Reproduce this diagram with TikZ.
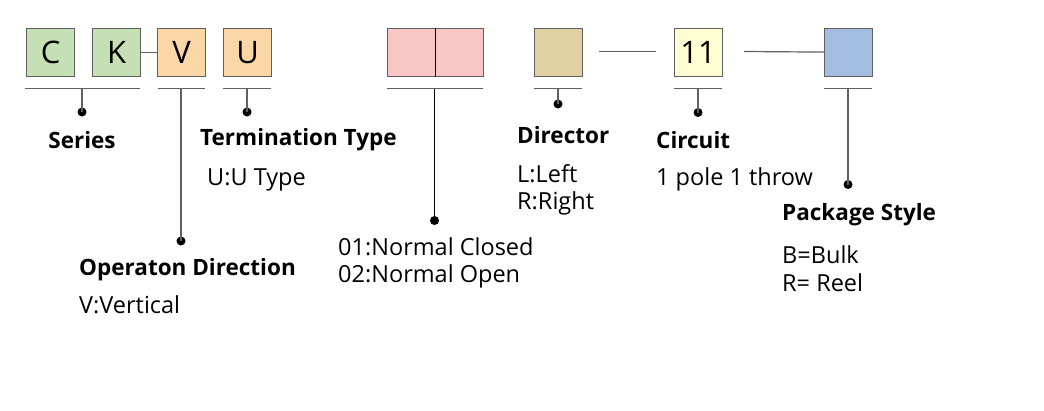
\documentclass[tikz,border=0pt]{standalone}
\usepackage{fontspec}
\setmainfont{Open Sans}
\definecolor{cgreen}{HTML}{C5E0B4}
\definecolor{corange}{HTML}{FBD6A7}
\definecolor{cpink}{HTML}{F8C6C4}
\definecolor{ctan}{HTML}{E1D1A2}
\definecolor{cyellow}{HTML}{FFFDD2}
\definecolor{cblue}{HTML}{A3BDE1}
\definecolor{cline}{HTML}{606060}
\begin{document}
\begin{tikzpicture}[x=1pt,y=-1pt,
  codebox/.style={draw=cline,line width=1.2pt,minimum width=48pt,minimum height=48pt,inner sep=0pt,anchor=north west,font=\fontsize{31}{34}\selectfont},
  conn/.style={draw=cline,line width=1.2pt},
  dotnode/.style={circle,fill=black,inner sep=0pt,minimum size=9pt},
  title/.style={font=\fontsize{22.5}{24}\selectfont\bfseries,inner sep=0pt},
  desc/.style={font=\fontsize{23.5}{24}\selectfont,inner sep=0pt,anchor=west,align=left}]
\useasboundingbox (0,0) rectangle (1044,410);
% boxes
\node[codebox,fill=cgreen] (c) at (26,27.5) {C};
\node[codebox,fill=cgreen] (k) at (92,27.5) {K};
\node[codebox,fill=corange] (v) at (157,27.5) {V};
\node[codebox,fill=corange] (u) at (223,27.5) {U};
\node[codebox,fill=cpink,minimum width=96pt] (p) at (386.5,27.5) {};
\draw[conn,draw=black] (p.north) -- (p.south);
\node[codebox,fill=ctan] (d) at (533.5,27.5) {};
\node[codebox,fill=cyellow] (e) at (673.5,27.5) {11};
\node[codebox,fill=cblue] (b) at (824,27.5) {};
% inline connectors
\draw[conn] (k.east) -- (v.west);
\coordinate (d1) at (599,51.5); \coordinate (d2) at (656,51.5);
\draw[conn] (d1) -- (d2);
\coordinate (e1) at (744,51.5);
\draw[conn] (e1) -- (b.west);
% underlines
\coordinate (sl) at (25,88.8); \coordinate (sr) at (140,88.8);
\draw[conn] (sl) -- (sr);
\coordinate (vl) at (158,88.8); \coordinate (vr) at (205,88.8);
\draw[conn] (vl) -- (vr);
\coordinate (ul) at (223,88.8); \coordinate (ur) at (271,88.8);
\draw[conn] (ul) -- (ur);
\coordinate (pl) at (386.5,88.8); \coordinate (pr) at (482.5,88.8);
\draw[conn] (pl) -- (pr);
\coordinate (dl) at (534,88.8); \coordinate (dr) at (582,88.8);
\draw[conn] (dl) -- (dr);
\coordinate (el) at (674,88.8); \coordinate (er) at (722,88.8);
\draw[conn] (el) -- (er);
\coordinate (bl) at (824,88.8); \coordinate (br) at (872,88.8);
\draw[conn] (bl) -- (br);
% ticks and dots
\coordinate (st) at (82,88.8); \node[dotnode] (sd) at (82,112) {};
\draw[conn] (st) -- (sd.center);
\coordinate (vt) at (181,88.8); \node[dotnode] (vd) at (181,241) {};
\draw[conn] (vt) -- (vd.center);
\coordinate (ut) at (247,88.8); \node[dotnode] (ud) at (247,112) {};
\draw[conn] (ut) -- (ud.center);
\coordinate (pt) at (434.5,88.8); \node[dotnode] (pd) at (434.5,220.5) {};
\draw[conn,draw=black] (pt) -- (pd.center);
\coordinate (dt) at (558,88.8); \node[dotnode] (dd) at (558,104) {};
\draw[conn] (dt) -- (dd.center);
\coordinate (et) at (698,88.8); \node[dotnode] (ed) at (698,112.5) {};
\draw[conn] (et) -- (ed.center);
\coordinate (bt) at (848,88.8); \node[dotnode] (bd) at (848,184.5) {};
\draw[conn] (bt) -- (bd.center);
% labels
\node[title] (series) at (82,140) {Series};
\node[title,anchor=west] (term) at (200,140) {Termination Type};
\node[desc] (termd) at (207,179.5) {U:U Type};
\node[title,anchor=west] (oper) at (79,269.5) {Operaton Direction};
\node[desc] (operd) at (79,305) {V:Vertical};
\node[desc] (nc) at (338,247) {01:Normal Closed};
\node[desc] (no) at (338,276.5) {02:Normal Open};
\node[title,anchor=west] (dir) at (517,135) {Director};
\node[desc] (dirl) at (517,174) {L:Left};
\node[desc] (dirr) at (517,203) {R:Right};
\node[title,anchor=west] (circ) at (656,140) {Circuit};
\node[desc] (circd) at (656,179.5) {1 pole 1 throw};
\node[title,anchor=west] (pkg) at (782,215) {Package Style};
\node[desc] (pkgb) at (782,254.5) {B=Bulk};
\node[desc] (pkgr) at (782,283) {R= Reel};
\end{tikzpicture}
\end{document}
